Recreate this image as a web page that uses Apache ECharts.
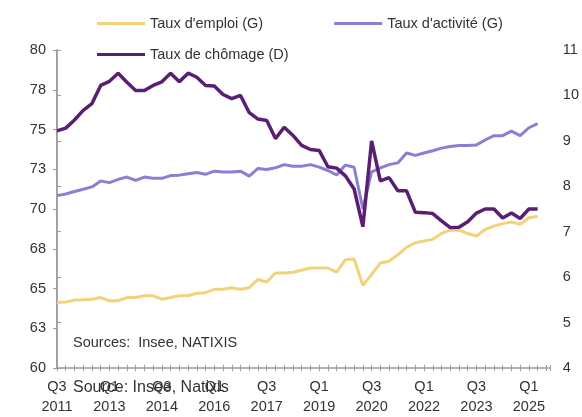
<!DOCTYPE html>
<html>
<head>
<meta charset="utf-8">
<script src="https://cdn.jsdelivr.net/npm/echarts@6/dist/echarts.min.js"></script>
<style>
  html, body { margin: 0; padding: 0; background: #fff; }
  #main { width: 582px; height: 417px; }
</style>
</head>
<body>
<div id="main"></div>
<script>
// quarters from Q3 2011 (index 0) to Q2 2025 (index 55)
var tickLabels = ['Q3\n2011', 'Q1\n2013', 'Q3\n2014', 'Q1\n2016', 'Q3\n2017',
                  'Q1\n2019', 'Q3\n2020', 'Q1\n2022', 'Q3\n2023', 'Q1\n2025'];

var emploi = [
  64.12, 64.15, 64.27, 64.29, 64.33, 64.43, 64.23, 64.23, 64.43, 64.43,
  64.54, 64.54, 64.33, 64.43, 64.54, 64.54, 64.70, 64.74, 64.95, 64.95,
  65.05, 64.95, 65.05, 65.57, 65.41, 65.98, 65.98, 66.02, 66.15, 66.29,
  66.29, 66.29, 66.03, 66.81, 66.85, 65.20, 65.88, 66.60, 66.71, 67.12,
  67.59, 67.88, 67.99, 68.09, 68.46, 68.67, 68.67, 68.46, 68.30, 68.71,
  68.92, 69.08, 69.18, 69.04, 69.45, 69.54
];

var activite = [
  70.84, 70.94, 71.10, 71.24, 71.39, 71.76, 71.66, 71.86, 72.01, 71.80,
  72.01, 71.93, 71.93, 72.10, 72.13, 72.22, 72.30, 72.18, 72.38, 72.33,
  72.33, 72.38, 72.07, 72.55, 72.49, 72.59, 72.79, 72.69, 72.69, 72.79,
  72.63, 72.42, 72.14, 72.76, 72.63, 70.00, 72.33, 72.59, 72.79, 72.90,
  73.52, 73.37, 73.52, 73.66, 73.83, 73.93, 74.00, 74.00, 74.03, 74.34,
  74.61, 74.61, 74.90, 74.61, 75.11, 75.37
];

var chomage = [
  9.22, 9.28, 9.46, 9.67, 9.82, 10.22, 10.31, 10.49, 10.29, 10.11,
  10.11, 10.22, 10.30, 10.49, 10.30, 10.49, 10.40, 10.22, 10.21, 10.02,
  9.93, 10.00, 9.62, 9.48, 9.45, 9.05, 9.30, 9.12, 8.90, 8.81,
  8.79, 8.43, 8.40, 8.23, 7.94, 7.11, 9.00, 8.12, 8.19, 7.90,
  7.90, 7.43, 7.42, 7.40, 7.24, 7.09, 7.10, 7.22, 7.41, 7.50,
  7.50, 7.30, 7.41, 7.29, 7.50, 7.50
];

function toPoints(arr) {
  return arr.map(function (v, i) { return [i, v]; });
}

var font = 'Liberation Sans, Arial, sans-serif';
var axisGrey = '#9b9b9b';
var textCol = '#333';

var myChart = echarts.init(document.getElementById('main'), null, { renderer: 'canvas' });

var option = {
  backgroundColor: '#fff',
  animation: false,
  textStyle: { fontFamily: font },
  grid: { left: 57, right: 26, top: 50, bottom: 44 },
  legend: [
    {
      data: ["Taux d'emploi (G)", "Taux d'activité (G)"],
      left: 92, top: 11,
      icon: 'rect', itemWidth: 48, itemHeight: 3, itemGap: 71,
      textStyle: { fontSize: 14.5, color: textCol, fontFamily: font }
    },
    {
      data: ['Taux de chômage (D)'],
      left: 92, top: 42,
      icon: 'rect', itemWidth: 48, itemHeight: 3,
      textStyle: { fontSize: 14.5, color: textCol, fontFamily: font }
    }
  ],
  xAxis: [
    {
      type: 'value', min: 0, max: 56.4, interval: 1,
      axisLine: { show: true, lineStyle: { color: axisGrey, width: 1.5 } },
      axisTick: { show: true, length: 3, lineStyle: { color: axisGrey } },
      splitLine: { show: false },
      axisLabel: {
        color: textCol, fontSize: 14.5, lineHeight: 20, margin: 9,
        fontFamily: font,
        formatter: function (v) {
          if (v % 6 === 0 && tickLabels[v / 6]) return tickLabels[v / 6];
          return '';
        }
      }
    },
    {
      // second axis only for the ticks going up into the plot
      type: 'value', min: 0, max: 56.4, interval: 1, position: 'bottom',
      axisLine: { show: false },
      axisTick: { show: true, inside: true, length: 3, lineStyle: { color: axisGrey } },
      axisLabel: { show: false },
      splitLine: { show: false }
    }
  ],
  yAxis: [
    {
      type: 'value', min: 60, max: 80, interval: 2.5, position: 'left',
      axisLine: { show: true, lineStyle: { color: axisGrey, width: 1.5 } },
      axisTick: { show: true, length: 4, lineStyle: { color: axisGrey } },
      splitLine: { show: false },
      axisLabel: {
        color: textCol, fontSize: 14.5, margin: 11, fontFamily: font,
        formatter: function (v) { return Math.round(v); }
      }
    },
    {
      type: 'value', min: 4, max: 11, interval: 1, position: 'right',
      axisLine: { show: true, lineStyle: { color: axisGrey, width: 1.5 } },
      axisTick: { show: true, length: 4, lineStyle: { color: axisGrey } },
      splitLine: { show: false },
      axisLabel: { color: textCol, fontSize: 14.5, margin: 13, fontFamily: font }
    }
  ],
  series: [
    {
      name: "Taux d'emploi (G)", type: 'line', yAxisIndex: 0,
      data: toPoints(emploi), showSymbol: false,
      lineStyle: { width: 3, color: '#f3d27a' }, itemStyle: { color: '#f3d27a' }
    },
    {
      name: "Taux d'activité (G)", type: 'line', yAxisIndex: 0,
      data: toPoints(activite), showSymbol: false,
      lineStyle: { width: 3, color: '#8a7fd2' }, itemStyle: { color: '#8a7fd2' }
    },
    {
      name: 'Taux de chômage (D)', type: 'line', yAxisIndex: 1,
      data: toPoints(chomage), showSymbol: false,
      lineStyle: { width: 3.5, color: '#5a1e74' }, itemStyle: { color: '#5a1e74' }
    }
  ],
  graphic: [
    {
      type: 'text', left: 73, top: 335,
      style: { text: 'Sources:  Insee, NATIXIS', fontSize: 14.5, fill: textCol, font: '14.5px ' + font }
    },
    {
      type: 'text', left: 73, top: 380,
      style: { text: 'Source: Insee, Natixis', fontSize: 16, fill: textCol, font: '16px ' + font }
    }
  ]
};

myChart.setOption(option);
</script>
</body>
</html>
